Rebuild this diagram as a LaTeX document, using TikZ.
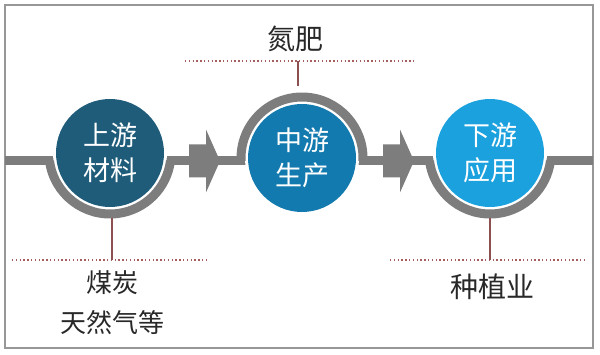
\documentclass[tikz,border=0pt]{standalone}
\usepackage{fontspec}
\setmainfont{Noto Sans CJK SC}
\usepackage{xcolor}
\usetikzlibrary{positioning,calc}

\definecolor{bandgray}{RGB}{125,125,125}
\definecolor{upblue}{RGB}{31,92,122}
\definecolor{midblue}{RGB}{18,122,174}
\definecolor{lowblue}{RGB}{27,161,222}
\definecolor{tiered}{RGB}{140,80,80}
\definecolor{dotred}{RGB}{165,95,95}
\definecolor{labelgray}{RGB}{40,40,40}

\tikzset{
  stage/.style={circle,minimum size=108pt,inner sep=0pt,text=white,align=center,
    font=\fontsize{27}{35}\selectfont},
  ring/.style={bandgray,line width=9pt},
  tie/.style={tiered,line width=1.2pt},
  dotline/.style={dotred,line width=1.4pt,dash pattern=on 1.4pt off 2.4pt},
  lbl/.style={text=labelgray,align=center,font=\fontsize{26}{40}\selectfont}
}

\begin{document}
\begin{tikzpicture}[x=1pt,y=1pt]
\useasboundingbox (0,0) rectangle (600,354);
% frame and band
\draw[bandgray!80,line width=1.5pt](5,6) rectangle (593,349);
\fill[bandgray](5,188.5) rectangle (593,197.5);
% rings behind the stages
\fill[white](110,201) circle (57);
\fill[white](302,196) circle (57);
\fill[white](490,201) circle (57);
\draw[ring](110,201) ++(187.5:61) arc (187.5:352.5:61);
\draw[ring](302,196) ++(-2.8:61) arc (-2.8:182.8:61);
\draw[ring](490,201) ++(187.5:61) arc (187.5:352.5:61);
% stages
\node[stage,fill=upblue] (up) at (110,201) {上游\\材料};
\node[stage,fill=midblue] (mid) at (302,196) {中游\\生产};
\node[stage,fill=lowblue] (low) at (490,201) {下游\\应用};
% block arrows
\coordinate (a1) at (189,193);
\coordinate (a2) at (383,193);
\foreach \a in {a1,a2}
  \fill[bandgray](\a) ++(0,16.5) -- ++(17,0) -- ++(0,15) -- ++(14,-31.5)
    -- ++(-14,-31.5) -- ++(0,15) -- ++(-17,0) -- cycle;
% labels
\node[lbl,font=\fontsize{28}{34}\selectfont] (fert) at (295,315) {氮肥};
\node[lbl] (coal) at (112,51) {煤炭\\天然气等};
\node[lbl,font=\fontsize{28}{34}\selectfont] (crop) at (492,67) {种植业};
% dotted rules and ties
\coordinate (t1) at (185,293);
\coordinate (t2) at (415,293);
\coordinate (b1) at (12,94);
\coordinate (b2) at (208,94);
\coordinate (b3) at (390,94);
\coordinate (b4) at (587,94);
\draw[dotline](t1)--(t2);
\draw[dotline](b1)--(b2);
\draw[dotline](b3)--(b4);
\draw[tie]($(mid.center)+(-4,72)$)--($(mid.center)+(-4,97)$);
\draw[tie]($(up.center)+(2,-65)$)--($(up.center)+(2,-107)$);
\draw[tie]($(low.center)+(0,-65)$)--($(low.center)+(0,-107)$);
\end{tikzpicture}
\end{document}
